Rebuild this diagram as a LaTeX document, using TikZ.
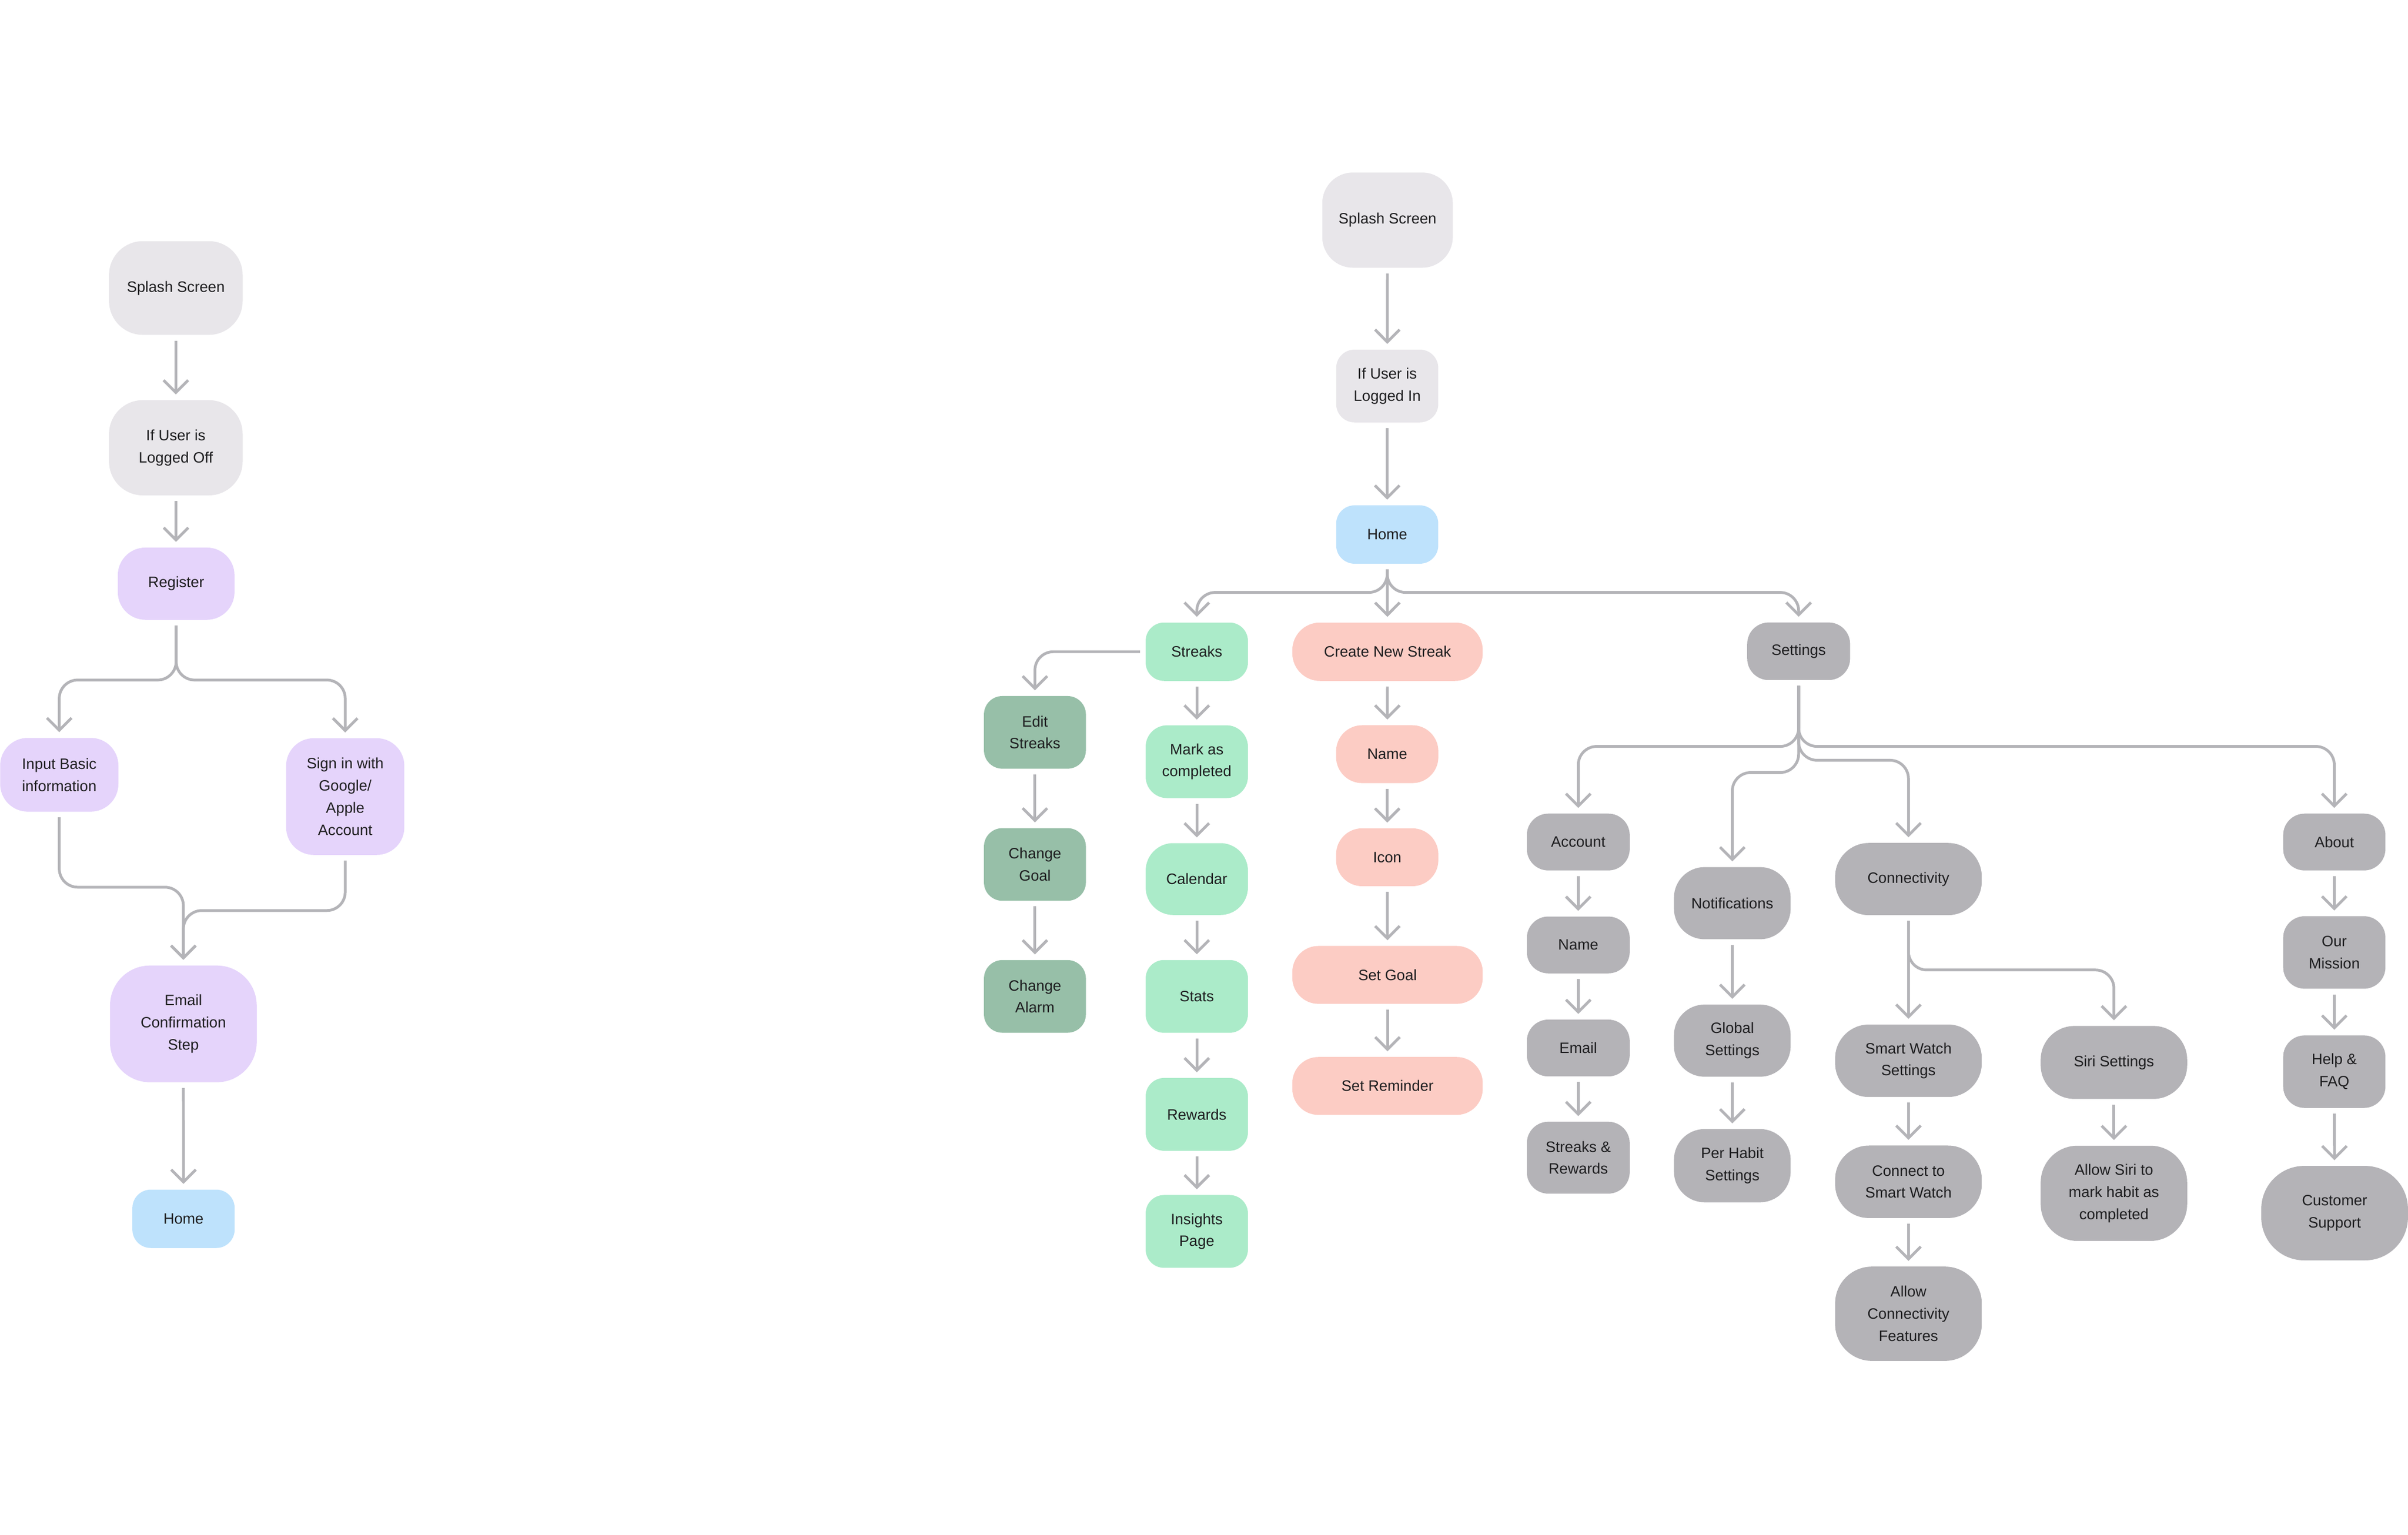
\documentclass[tikz,border=0pt]{standalone}
\usepackage{fontspec}
\setmainfont{Liberation Sans}
\usetikzlibrary{arrows.meta}
\definecolor{lgray}{RGB}{232,230,234}
\definecolor{purp}{RGB}{229,212,251}
\definecolor{blu}{RGB}{190,226,252}
\definecolor{mint}{RGB}{171,235,201}
\definecolor{dgrn}{RGB}{151,191,168}
\definecolor{pnk}{RGB}{252,204,196}
\definecolor{gry}{RGB}{180,179,183}
\definecolor{lnc}{RGB}{180,180,184}
\definecolor{txt}{RGB}{30,30,32}
\begin{document}
\begin{tikzpicture}[x=1pt,y=-1pt,
  box/.style={rectangle, inner sep=0pt, align=center, text=txt, font=\fontsize{9.8pt}{14.4pt}\selectfont},
  rc/.style={rounded corners=#1},
  sz/.style 2 args={minimum width=#1pt, minimum height=#2pt},
  lg/.style={box, fill=lgray},
  pu/.style={box, fill=purp},
  bl/.style={box, fill=blu},
  mn/.style={box, fill=mint},
  dg/.style={box, fill=dgrn},
  pk/.style={box, fill=pnk},
  gr/.style={box, fill=gry},
  ar/.style={draw=lnc, line width=1.8pt, -{Straight Barb[length=8pt,width=16pt]}, shorten <=3.5pt, shorten >=3.5pt, rounded corners=12pt}
]
\useasboundingbox (0,0) rectangle (1568,999);

% ---------- left flow ----------
\node[lg, sz={87}{61}, rc=22pt] (sL) at (114.5,187.5) {Splash Screen};
\node[lg, sz={87}{62}, rc=22pt] (ifOff) at (114.5,291.5) {If User is\\Logged Off};
\node[pu, sz={76}{47}, rc=18pt] (reg) at (114.7,380) {Register};
\node[pu, sz={77}{48}, rc=18pt] (inp) at (38.6,504.4) {Input Basic\\information};
\node[pu, sz={77}{76}, rc=18pt] (sign) at (224.8,518.6) {Sign in with\\Google/\\Apple\\Account};
\node[pu, sz={95.5}{76}, rc=26pt] (email) at (119.4,666.6) {Email\\Confirmation\\Step};
\node[bl, sz={66.6}{38}, rc=12pt] (homeL) at (119.5,793.5) {Home};

\draw[ar] (sL) -- (ifOff);
\draw[ar] (ifOff) -- (reg);
\draw[ar] (reg.south) -- ++(0,39) -| (inp.north);
\draw[ar] (reg.south) -- ++(0,39) -| (sign.north);
\draw[ar] (inp.south) -- ++(0,49) -| (email.north);
\draw[ar] (sign.south) -- ++(0,36) -| (email.north);
\draw[ar] (email) -- (homeL);

% ---------- right flow ----------
\node[lg, sz={85}{62}, rc=20pt] (sR) at (903.5,143.3) {Splash Screen};
\node[lg, sz={66.5}{47.4}, rc=12pt] (ifIn) at (903.3,251.3) {If User is\\Logged In};
\node[bl, sz={66.5}{38}, rc=12pt] (homeR) at (903.3,348) {Home};

\node[mn, sz={66.6}{38}, rc=12pt] (streaks) at (779.3,424.3) {Streaks};
\node[pk, sz={124}{38}, rc=18pt] (create) at (903.5,424.3) {Create New Streak};
\node[gr, sz={67}{37.5}, rc=14pt] (settings) at (1171.2,424) {Settings};

\node[dg, sz={66.4}{47.3}, rc=12pt] (edit) at (673.9,476.8) {Edit\\Streaks};
\node[dg, sz={66.4}{47.3}, rc=12pt] (chGoal) at (673.9,562.8) {Change\\Goal};
\node[dg, sz={66.4}{47.3}, rc=12pt] (chAlarm) at (673.9,648.7) {Change\\Alarm};

\node[mn, sz={66.6}{47.4}, rc=14pt] (mark) at (779.3,495.9) {Mark as\\completed};
\node[mn, sz={66.6}{46.8}, rc=18pt] (cal) at (779.3,572.3) {Calendar};
\node[mn, sz={66.6}{47.4}, rc=12pt] (stats) at (779.3,648.7) {Stats};
\node[mn, sz={66.6}{47.4}, rc=12pt] (rewards) at (779.3,725.5) {Rewards};
\node[mn, sz={66.6}{47.4}, rc=12pt] (insights) at (779.3,801.7) {Insights\\Page};

\node[pk, sz={66.6}{37.7}, rc=17pt] (nameP) at (903.3,491) {Name};
\node[pk, sz={66.6}{37.7}, rc=17pt] (icon) at (903.3,558.1) {Icon};
\node[pk, sz={124}{37.7}, rc=17pt] (setGoal) at (903.5,634.7) {Set Goal};
\node[pk, sz={124}{37.7}, rc=17pt] (setRem) at (903.5,707) {Set Reminder};

\node[gr, sz={67}{37}, rc=14pt] (account) at (1027.7,548.2) {Account};
\node[gr, sz={67}{37}, rc=14pt] (name2) at (1027.7,615.2) {Name};
\node[gr, sz={67}{37}, rc=14pt] (email2) at (1027.7,682.3) {Email};
\node[gr, sz={67}{46.8}, rc=14pt] (sr) at (1027.7,753.7) {Streaks \&\\Rewards};

\node[gr, sz={76}{47}, rc=20pt] (notif) at (1128,588) {Notifications};
\node[gr, sz={76}{47}, rc=20pt] (glob) at (1128,677.5) {Global\\Settings};
\node[gr, sz={76}{47.7}, rc=20pt] (perH) at (1128,758.9) {Per Habit\\Settings};

\node[gr, sz={95.5}{47}, rc=22pt] (conn) at (1242.7,572.3) {Connectivity};
\node[gr, sz={95.5}{47.2}, rc=22pt] (sws) at (1242.7,690.6) {Smart Watch\\Settings};
\node[gr, sz={95.5}{47.2}, rc=22pt] (cts) at (1242.7,769.4) {Connect to\\Smart Watch};
\node[gr, sz={95.5}{61.4}, rc=24pt] (acf) at (1242.7,855.3) {Allow\\Connectivity\\Features};

\node[gr, sz={95.4}{47.5}, rc=22pt] (siri) at (1376.5,691.7) {Siri Settings};
\node[gr, sz={95.4}{62}, rc=24pt] (asiri) at (1376.5,776.9) {Allow Siri to\\mark habit as\\completed};

\node[gr, sz={66.6}{37}, rc=14pt] (about) at (1520,548.2) {About};
\node[gr, sz={66.6}{47.2}, rc=14pt] (mission) at (1520,620.1) {Our\\Mission};
\node[gr, sz={66.6}{47.2}, rc=14pt] (help) at (1520,697.7) {Help \&\\FAQ};
\node[gr, sz={95.5}{61.5}, rc=28pt] (cust) at (1520.2,789.8) {Customer\\Support};

% connectors
\draw[ar] (sR) -- (ifIn);
\draw[ar] (ifIn) -- (homeR);
\draw[ar] (homeR) -- (create);
\draw[ar] (homeR.south) -- ++(0,18.5) -| (streaks.north);
\draw[ar] (homeR.south) -- ++(0,18.5) -| (settings.north);

\draw[ar] (streaks.west) -| (edit.north);
\draw[ar] (edit) -- (chGoal);
\draw[ar] (chGoal) -- (chAlarm);

\draw[ar] (streaks) -- (mark);
\draw[ar] (mark) -- (cal);
\draw[ar] (cal) -- (stats);
\draw[ar] (stats) -- (rewards);
\draw[ar] (rewards) -- (insights);

\draw[ar] (create) -- (nameP);
\draw[ar] (nameP) -- (icon);
\draw[ar] (icon) -- (setGoal);
\draw[ar] (setGoal) -- (setRem);

\draw[ar] (settings.south) -- ++(0,43) -| (account.north);
\draw[ar] (settings.south) -- ++(0,60) -| (notif.north);
\draw[ar] (settings.south) -- ++(0,52) -| (conn.north);
\draw[ar] (settings.south) -- ++(0,43) -| (about.north);

\draw[ar] (account) -- (name2);
\draw[ar] (name2) -- (email2);
\draw[ar] (email2) -- (sr);

\draw[ar] (notif) -- (glob);
\draw[ar] (glob) -- (perH);

\draw[ar] (conn) -- (sws);
\draw[ar] (conn.south) -- ++(0,35.5) -| (siri.north);
\draw[ar] (sws) -- (cts);
\draw[ar] (cts) -- (acf);
\draw[ar] (siri) -- (asiri);

\draw[ar] (about) -- (mission);
\draw[ar] (mission) -- (help);
\draw[ar] (help) -- (cust);
\end{tikzpicture}
\end{document}
